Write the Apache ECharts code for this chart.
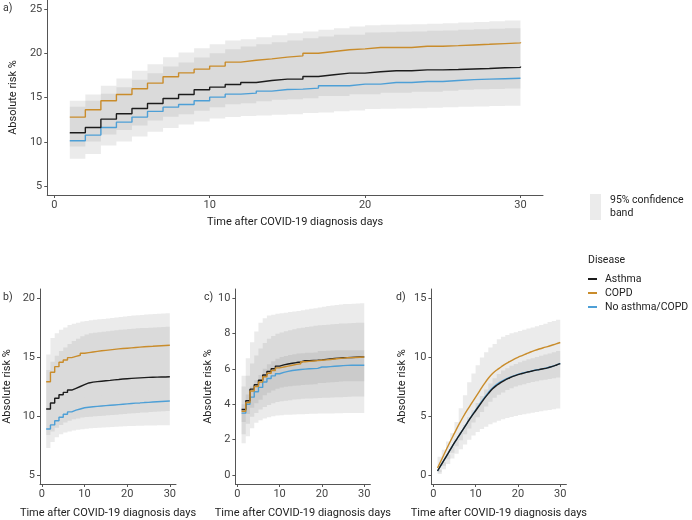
<!DOCTYPE html>
<html><head><meta charset="utf-8">
<script src="https://cdn.jsdelivr.net/npm/echarts@6/dist/echarts.min.js"></script>
<style>html,body{margin:0;padding:0;background:#fff}#c{width:692px;height:520px}</style>
</head><body><div id="c"></div>
<script>
const days = [1,2,3,4,5,6,7,8,9,10,11,12,13,14,15,16,17,18,19,20,21,22,23,24,25,26,27,28,29,30];
const xTicks = [0,10,20,30];
const aTicks = [5,10,15,20,25];
const bTicks = [5,10,15,20];
const cTicks = [0,2,4,6,8,10];
const dTicks = [0,5,10,15];

// Panel a) all patients
const aAsthma   = [11.02,11.62,12.56,13.16,13.76,14.33,14.89,15.34,15.87,16.17,16.47,16.70,16.92,17.07,17.07,17.37,17.56,17.75,17.75,17.90,18.01,18.01,18.12,18.12,18.16,18.22,18.28,18.35,18.42,18.50];
const aAsthmaLo = [8.09,8.62,9.59,10.04,10.61,11.13,11.55,11.96,12.30,12.64,12.80,12.90,12.98,13.05,13.12,13.24,13.30,13.46,13.54,13.69,13.73,13.76,13.80,13.84,13.91,13.95,13.99,14.03,14.07,14.07];
const aAsthmaHi = [13.95,14.63,15.42,16.17,17.00,17.75,18.50,18.95,19.51,20.00,20.45,20.75,21.02,21.24,21.43,21.69,21.88,22.07,22.07,22.33,22.37,22.41,22.45,22.52,22.56,22.63,22.71,22.75,22.82,22.90];
const aCopd     = [12.79,13.61,14.63,15.34,15.98,16.62,17.34,17.78,18.20,18.54,18.99,19.21,19.36,19.55,19.70,20.00,20.19,20.38,20.49,20.64,20.64,20.64,20.79,20.79,20.85,20.93,21.00,21.08,21.16,21.24];
const aCopdLo   = [10.76,11.47,12.42,13.11,13.75,14.46,14.99,15.32,15.76,16.18,16.53,16.64,16.87,17.06,17.09,17.21,17.47,17.47,17.66,17.66,17.85,17.85,17.96,17.96,18.07,18.17,18.22,18.27,18.32,18.38];
const aCopdHi   = [14.63,15.34,16.32,17.15,18.01,18.76,19.55,20.08,20.57,21.02,21.43,21.58,21.81,22.03,22.26,22.45,22.63,22.82,23.01,23.16,23.20,23.23,23.27,23.31,23.38,23.46,23.53,23.61,23.69,23.76];
const aNone     = [10.12,10.76,11.62,12.22,12.79,13.43,13.91,14.21,14.63,15.04,15.38,15.49,15.72,15.91,15.94,16.06,16.32,16.32,16.51,16.51,16.70,16.70,16.81,16.81,16.92,17.02,17.07,17.12,17.17,17.22];
const aNoneLo   = [9.48,10.05,10.82,11.33,11.83,12.40,12.83,13.10,13.50,13.90,14.23,14.34,14.57,14.76,14.79,14.91,15.17,15.17,15.36,15.36,15.55,15.55,15.66,15.66,15.77,15.87,15.92,15.97,16.02,16.06];
const aNoneHi   = [10.76,11.47,12.42,13.11,13.75,14.46,14.99,15.32,15.76,16.18,16.53,16.64,16.87,17.06,17.09,17.21,17.47,17.47,17.66,17.66,17.85,17.85,17.96,17.96,18.07,18.17,18.22,18.27,18.32,18.38];

// Panel b)
const bAsthma   = [10.6,11.1,11.5,11.8,12.0,12.2,12.35,12.5,12.65,12.8,12.87,12.91,12.95,12.99,13.02,13.06,13.09,13.13,13.16,13.19,13.21,13.23,13.25,13.27,13.28,13.29,13.30,13.31,13.32,13.33];
const bAsthmaLo = [7.3,7.8,8.2,8.45,8.6,8.7,8.78,8.84,8.89,8.93,8.96,8.99,9.02,9.04,9.06,9.08,9.1,9.12,9.14,9.15,9.16,9.17,9.18,9.19,9.2,9.21,9.22,9.23,9.23,9.24];
const bAsthmaHi = [13.9,14.6,15.1,15.5,15.8,16.1,16.35,16.55,16.75,16.9,17.0,17.05,17.1,17.14,17.18,17.22,17.26,17.3,17.33,17.36,17.39,17.42,17.44,17.46,17.48,17.5,17.52,17.54,17.56,17.57];
const bCopd     = [12.9,13.7,14.18,14.55,14.74,14.94,15.05,15.14,15.31,15.37,15.42,15.47,15.52,15.56,15.6,15.64,15.68,15.71,15.74,15.77,15.8,15.83,15.86,15.88,15.9,15.93,15.95,15.97,15.99,16.01];
const bCopdLo   = [9.45,9.85,10.25,10.6,10.9,11.15,11.33,11.45,11.57,11.64,11.69,11.73,11.77,11.81,11.85,11.89,11.93,11.97,12.01,12.05,12.09,12.12,12.15,12.18,12.21,12.24,12.27,12.3,12.32,12.35];
const bCopdHi   = [15.2,16.6,17.0,17.3,17.5,17.7,17.8,17.9,18.0,18.05,18.1,18.14,18.18,18.22,18.26,18.3,18.34,18.38,18.42,18.46,18.5,18.53,18.56,18.59,18.62,18.64,18.66,18.68,18.7,18.72];
const bNone     = [8.9,9.25,9.6,9.9,10.15,10.35,10.5,10.6,10.7,10.75,10.79,10.82,10.85,10.88,10.91,10.94,10.97,11.0,11.03,11.06,11.09,11.11,11.14,11.16,11.19,11.21,11.23,11.25,11.27,11.29];
const bNoneLo   = [8.4,8.7,9.0,9.25,9.45,9.6,9.72,9.8,9.88,9.92,9.95,9.98,10.0,10.03,10.06,10.09,10.12,10.15,10.18,10.21,10.24,10.26,10.29,10.31,10.34,10.36,10.38,10.4,10.42,10.44];
const bNoneHi   = [9.45,9.85,10.25,10.6,10.9,11.15,11.33,11.45,11.57,11.64,11.69,11.73,11.77,11.81,11.85,11.89,11.93,11.97,12.01,12.05,12.09,12.12,12.15,12.18,12.21,12.24,12.27,12.3,12.32,12.35];

// Panel c)
const cAsthma   = [3.7,4.2,4.85,5.1,5.35,5.65,5.85,6.0,6.15,6.22,6.27,6.31,6.35,6.38,6.45,6.46,6.47,6.48,6.5,6.53,6.56,6.58,6.6,6.62,6.63,6.64,6.65,6.66,6.67,6.68];
const cAsthmaLo = [2.3,2.9,3.3,3.5,3.7,3.85,3.95,4.05,4.12,4.17,4.2,4.23,4.26,4.28,4.31,4.32,4.33,4.34,4.35,4.36,4.37,4.38,4.39,4.4,4.41,4.42,4.43,4.43,4.44,4.44];
const cAsthmaHi = [5.0,5.6,6.3,6.75,7.15,7.45,7.7,7.85,7.97,8.05,8.12,8.18,8.23,8.28,8.32,8.36,8.39,8.42,8.45,8.47,8.49,8.51,8.53,8.55,8.56,8.57,8.58,8.59,8.6,8.6];
const cCopd     = [3.6,4.1,4.75,5.0,5.25,5.55,5.75,5.9,6.05,6.1,6.15,6.2,6.25,6.28,6.4,6.42,6.44,6.46,6.48,6.5,6.52,6.55,6.58,6.6,6.62,6.63,6.64,6.65,6.66,6.67];
const cCopdLo   = [1.8,2.2,2.65,2.95,3.1,3.2,3.27,3.32,3.36,3.38,3.4,3.41,3.42,3.43,3.44,3.45,3.46,3.46,3.47,3.47,3.48,3.48,3.49,3.49,3.5,3.5,3.5,3.5,3.5,3.5];
const cCopdHi   = [5.6,6.6,7.5,8.1,8.6,8.85,9.0,9.05,9.1,9.13,9.16,9.2,9.23,9.26,9.3,9.34,9.38,9.42,9.46,9.5,9.54,9.57,9.6,9.63,9.65,9.66,9.67,9.68,9.69,9.7];
const cNone     = [3.5,4.0,4.4,4.7,4.95,5.25,5.45,5.6,5.72,5.8,5.85,5.9,5.93,5.96,5.98,6.0,6.01,6.02,6.1,6.1,6.12,6.14,6.16,6.18,6.19,6.2,6.2,6.2,6.2,6.2];
const cNoneLo   = [3.0,3.45,3.8,4.05,4.25,4.5,4.65,4.78,4.88,4.94,4.98,5.02,5.04,5.06,5.08,5.1,5.11,5.12,5.2,5.2,5.22,5.24,5.26,5.28,5.29,5.3,5.3,5.3,5.3,5.3];
const cNoneHi   = [4.0,4.55,5.0,5.35,5.65,6.0,6.25,6.42,6.56,6.66,6.72,6.78,6.82,6.86,6.88,6.9,6.91,6.92,7.0,7.0,7.02,7.03,7.04,7.05,7.05,7.05,7.05,7.05,7.05,7.05];

// Panel d)
const dAsthma   = [0.35,0.95,1.55,2.15,2.75,3.3,3.85,4.4,4.95,5.45,5.95,6.45,6.9,7.3,7.6,7.85,8.05,8.22,8.38,8.5,8.6,8.7,8.78,8.86,8.93,9.0,9.08,9.18,9.3,9.43];
const dAsthmaLo = [0.1,0.5,0.95,1.4,1.8,2.2,2.6,3.0,3.35,3.65,3.9,4.1,4.3,4.45,4.6,4.72,4.83,4.92,5.0,5.08,5.15,5.22,5.28,5.35,5.4,5.46,5.52,5.58,5.64,5.7];
const dAsthmaHi = [1.55,2.15,2.85,3.55,4.5,5.65,6.75,7.85,8.6,9.3,9.95,10.4,10.8,11.1,11.5,11.7,11.85,12.0,12.1,12.2,12.3,12.4,12.5,12.6,12.7,12.8,12.95,13.05,13.15,13.25];
const dCopd     = [0.6,1.35,2.1,2.85,3.55,4.25,4.9,5.5,6.05,6.6,7.15,7.7,8.2,8.6,8.9,9.15,9.4,9.6,9.8,9.97,10.12,10.27,10.42,10.55,10.67,10.78,10.88,10.99,11.1,11.22];
const dNone     = [0.35,0.95,1.55,2.15,2.75,3.3,3.85,4.42,4.98,5.5,6.02,6.52,6.98,7.38,7.68,7.92,8.1,8.26,8.4,8.52,8.62,8.71,8.79,8.87,8.94,9.01,9.09,9.19,9.31,9.45];
const dNoneLo   = [0.25,0.8,1.35,1.9,2.45,2.95,3.45,3.95,4.45,4.9,5.35,5.8,6.2,6.55,6.8,7.0,7.2,7.35,7.5,7.6,7.7,7.8,7.88,7.95,8.02,8.08,8.14,8.2,8.26,8.32];
const dNoneHi   = [0.45,1.1,1.75,2.4,3.05,3.65,4.25,4.9,5.5,6.1,6.7,7.25,7.75,8.2,8.55,8.85,9.05,9.25,9.4,9.55,9.68,9.8,9.9,10.0,10.1,10.2,10.3,10.4,10.5,10.58];

const FONT = 'Roboto, "DejaVu Sans", sans-serif';
const COL = { 'Asthma': '#1c1c1c', 'COPD': '#c98c2b', 'No asthma/COPD': '#4d9fd6' };
const BAND = 'rgb(128,128,128)';
const BAND_OPACITY = 0.157;
const CI_NAME = '95% confidence\nband';

const panels = [
  { label:'a)', lx:3, ly:3, grid:{left:40, top:0, width:503, height:195}, y:[4,26], yTicks:aTicks, xGap:22, yGap:28, smooth:false,
    lines:{'No asthma/COPD':aNone,'Asthma':aAsthma,'COPD':aCopd},
    bands:[[aNoneLo,aNoneHi],[aAsthmaLo,aAsthmaHi],[aCopdLo,aCopdHi]] },
  { label:'b)', lx:3, ly:292, grid:{left:40, top:289, width:136, height:195.3}, y:[4.25,20.75], yTicks:bTicks, xGap:24, yGap:27, smooth:false,
    lines:{'No asthma/COPD':bNone,'Asthma':bAsthma,'COPD':bCopd},
    bands:[[bNoneLo,bNoneHi],[bAsthmaLo,bAsthmaHi],[bCopdLo,bCopdHi]] },
  { label:'c)', lx:204, ly:292, grid:{left:235.4, top:289, width:135, height:195.3}, y:[-0.5,10.5], yTicks:cTicks, xGap:24, yGap:21, smooth:false,
    lines:{'No asthma/COPD':cNone,'Asthma':cAsthma,'COPD':cCopd},
    bands:[[cNoneLo,cNoneHi],[cAsthmaLo,cAsthmaHi],[cCopdLo,cCopdHi]] },
  { label:'d)', lx:396, ly:292, grid:{left:431.4, top:289, width:135, height:195.3}, y:[-0.75,15.75], yTicks:dTicks, xGap:24, yGap:24, smooth:true,
    lines:{'No asthma/COPD':dNone,'Asthma':dAsthma,'COPD':dCopd},
    bands:[[dNoneLo,dNoneHi],[dAsthmaLo,dAsthmaHi]] }
];

// Step-shaped ribbon drawn through the axes' own scales (api.coord)
function ribbonSeries(i, lo, hi, name) {
  return {
    type:'custom', name, xAxisIndex:i, yAxisIndex:i, silent:true, z:1, clip:true,
    itemStyle:{color:'#ebebeb'},
    data: days.map((d, j) => [d, lo[j], hi[j]]),
    encode:{x:0, y:[1,2]},
    renderItem: (params, api) => {
      if (params.dataIndex !== 0) return null;
      const n = days.length, pts = [];
      for (let j = 0; j < n - 1; j++) {
        pts.push(api.coord([days[j], hi[j]]));
        pts.push(api.coord([days[j + 1], hi[j]]));
      }
      pts.push(api.coord([days[n - 1], hi[n - 1]]));
      pts.push(api.coord([days[n - 1], lo[n - 1]]));
      for (let j = n - 2; j >= 0; j--) {
        pts.push(api.coord([days[j + 1], lo[j]]));
        pts.push(api.coord([days[j], lo[j]]));
      }
      return { type:'polygon', shape:{points:pts}, style:{fill:BAND, opacity:BAND_OPACITY} };
    }
  };
}

const grids = [], xAxes = [], yAxes = [], series = [], titles = [];
const axisCommon = {
  axisLine:{onZero:false, lineStyle:{color:'#555', width:1}},
  splitLine:{show:false}
};
panels.forEach((p, i) => {
  grids.push(p.grid);
  xAxes.push(Object.assign({}, axisCommon, {
    type:'value', gridIndex:i, min:-0.45, max:31.45,
    name:'Time after COVID-19 diagnosis days', nameLocation:'middle', nameGap:p.xGap,
    nameTextStyle:{fontSize:11, color:'#222', fontFamily:FONT},
    axisTick:{length:3, lineStyle:{color:'#555'}, customValues:xTicks},
    axisLabel:{customValues:xTicks, fontSize:11, color:'#444', margin:5, fontFamily:FONT}
  }));
  yAxes.push(Object.assign({}, axisCommon, {
    type:'value', gridIndex:i, min:p.y[0], max:p.y[1],
    name:'Absolute risk %', nameLocation:'middle', nameGap:p.yGap,
    nameTextStyle:{fontSize:11, color:'#222', fontFamily:FONT},
    axisTick:{length:3, lineStyle:{color:'#555'}, customValues:p.yTicks},
    axisLabel:{customValues:p.yTicks, fontSize:11, color:'#444', margin:5, fontFamily:FONT}
  }));
  titles.push({ text:p.label, left:p.lx, top:p.ly, padding:0,
    textStyle:{fontSize:10.5, fontWeight:'normal', color:'#333', fontFamily:FONT} });
  p.bands.forEach((b, k) => {
    series.push(ribbonSeries(i, b[0], b[1], (i === 0 && k === 1) ? CI_NAME : ('ci' + i + '_' + k)));
  });
  ['No asthma/COPD','Asthma','COPD'].forEach(name => {
    const s = { type:'line', name, xAxisIndex:i, yAxisIndex:i, symbol:'none', z:3,
      lineStyle:{color:COL[name], width:1.4}, itemStyle:{color:COL[name]},
      data: days.map((d, j) => [d, p.lines[name][j]]) };
    if (p.smooth) s.smooth = 0.4; else s.step = 'end';
    series.push(s);
  });
});
titles.push({ text:'Disease', left:588, top:255, padding:0,
  textStyle:{fontSize:10.5, fontWeight:'normal', color:'#222', fontFamily:FONT} });

const chart = echarts.init(document.getElementById('c'), null, {renderer:'canvas'});
chart.setOption({
  animation:false,
  backgroundColor:'#fff',
  title: titles,
  grid: grids, xAxis: xAxes, yAxis: yAxes,
  legend: [
    { data:['Asthma','COPD','No asthma/COPD'], orient:'vertical', left:588, top:272, padding:0,
      itemGap:0, itemWidth:9, itemHeight:2, icon:'rect', selectedMode:false,
      textStyle:{fontSize:10.5, color:'#222', fontFamily:FONT, lineHeight:14, padding:[0,0,0,3]} },
    { data:[{name:CI_NAME, icon:'rect', itemStyle:{color:'#ebebeb'}}], left:590, top:194, padding:0,
      itemWidth:11, itemHeight:26, selectedMode:false,
      textStyle:{fontSize:10.5, color:'#222', fontFamily:FONT, lineHeight:13, padding:[0,0,0,4]} }
  ],
  series
});
</script></body></html>
